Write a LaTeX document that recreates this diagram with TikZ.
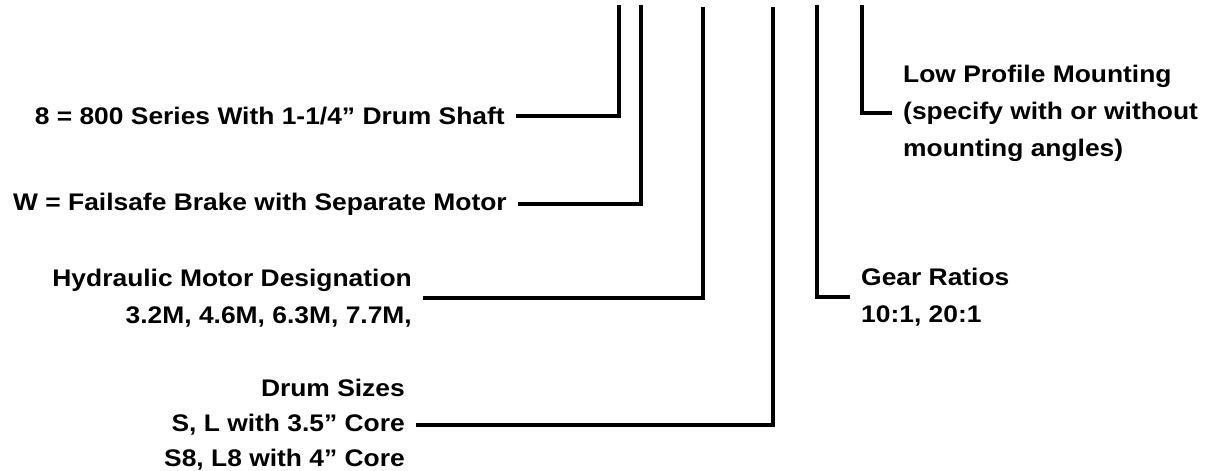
\documentclass[tikz,border=0pt]{standalone}
\usepackage{fontspec}
\setmainfont{Liberation Sans}[FakeStretch=1.1]
\usepackage{xcolor}
\usepackage{tikz}
\definecolor{codeink}{HTML}{000000}

\begin{document}
\begin{tikzpicture}[
  x=1pt,y=-1pt,
  keytext/.style={font=\fontsize{24}{37}\selectfont\bfseries,text=codeink,
    inner xsep=11pt,inner ysep=0pt},
  lead/.style={draw=codeink,line width=4.3pt,line join=miter}
]
  \useasboundingbox (0,0) rectangle (1215,471);

  \coordinate (series top) at (619,5);
  \coordinate (brake top) at (641,5);
  \coordinate (motor top) at (703,7);
  \coordinate (drum top) at (773,7);
  \coordinate (gear top) at (817,5);
  \coordinate (mount top) at (862,5);

  \node[keytext,anchor=east] (series) at (516,116) {8 = 800 Series With 1-1/4” Drum Shaft};
  \node[keytext,anchor=east] (brake) at (518,204) {W = Failsafe Brake with Separate Motor};
  \node[keytext,anchor=east,align=right] (motor) at (423,298)
    {Hydraulic Motor Designation\\3.2M, 4.6M, 6.3M, 7.7M,};
  \node[keytext,anchor=east,align=right,font=\fontsize{24}{35}\selectfont\bfseries] (drum) at (416,425)
    {Drum Sizes\\S, L with 3.5” Core\\S8, L8 with 4” Core};
  \node[keytext,anchor=west,align=left] (gear) at (850,297)
    {Gear Ratios\\10:1, 20:1};
  \node[keytext,anchor=west,align=left] (mount) at (892,113)
    {Low Profile Mounting\\(specify with or without\\mounting angles)};

  \draw[lead] (series top) |- (series.east);
  \draw[lead] (brake top) |- (brake.east);
  \draw[lead] (motor top) |- (motor.east);
  \draw[lead] (drum top) |- (drum.east);
  \draw[lead] (gear top) |- (gear.west);
  \draw[lead] (mount top) |- (mount.west);
\end{tikzpicture}
\end{document}
